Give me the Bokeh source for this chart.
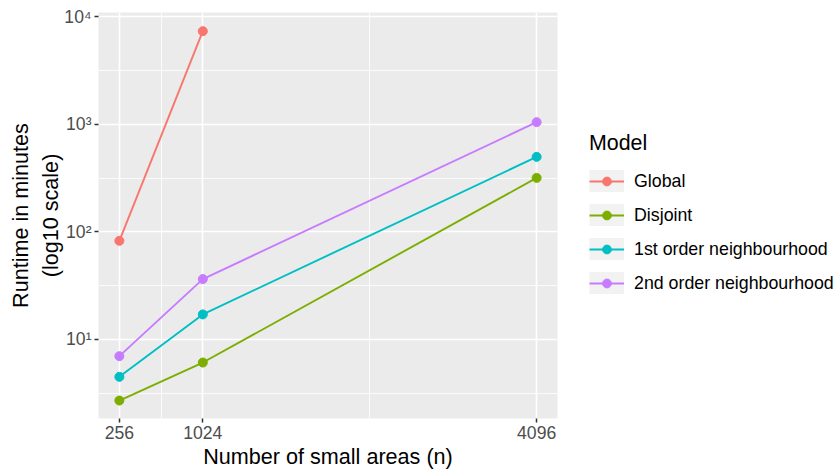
from bokeh.plotting import figure
from bokeh.models import FixedTicker, Legend, LegendItem, Range1d, Spacer
from bokeh.layouts import row
from bokeh.embed import file_html
from bokeh.resources import INLINE

# ---- data ----
n_areas = [256, 1024, 4096]
global_min = [82.5, 7303]          # only 256 and 1024
disjoint_min = [2.71, 6.11, 317]
first_min = [4.50, 17.1, 497]
second_min = [7.0, 36.4, 1044]

model_labels = ["Global", "Disjoint", "1st order neighbourhood", "2nd order neighbourhood"]
model_colors = ["#F8766D", "#7CAE00", "#00BFC4", "#C77CFF"]

x_ticks = [256, 1024, 4096]
x_minor = [640, 2560]
y_ticks = [10, 100, 1000, 10000]
y_tick_labels = ["10\u00b9", "10\u00b2", "10\u00b3", "10\u2074"]
y_minor = [3.162, 31.62, 316.2, 3162]

FONT = "Liberation Sans"

p = figure(frame_width=459, frame_height=406,
           y_axis_type="log",
           x_range=Range1d(64, 4288), y_range=Range1d(1.846, 10894),
           output_backend="svg", toolbar_location=None,
           min_border_left=80, min_border_right=272,
           min_border_top=12, min_border_bottom=49,
           background_fill_color="#EBEBEB", border_fill_color="white",
           outline_line_color=None)

xt = FixedTicker(ticks=x_ticks, minor_ticks=x_minor)
yt = FixedTicker(ticks=y_ticks, minor_ticks=y_minor)
p.xaxis.ticker = xt
p.xgrid.ticker = xt
p.yaxis.ticker = yt
p.ygrid.ticker = yt
p.yaxis.major_label_overrides = {float(t): lab for t, lab in zip(y_ticks, y_tick_labels)}

for g in (p.xgrid, p.ygrid):
    g.grid_line_color = "white"
    g.grid_line_width = 1.6
    g.minor_grid_line_color = "white"
    g.minor_grid_line_width = 0.8

for ax in (p.xaxis, p.yaxis):
    ax.axis_line_color = None
    ax.minor_tick_line_color = None
    ax.major_tick_line_color = "#333333"
    ax.major_tick_line_width = 1.5
    ax.major_tick_out = 4
    ax.major_tick_in = 0
    ax.major_label_text_font = FONT
    ax.major_label_text_font_size = "17.6px"
    ax.major_label_text_color = "#4D4D4D"
    ax.major_label_standoff = 3
    ax.axis_label_text_font = FONT
    ax.axis_label_text_font_size = "21.6px"
    ax.axis_label_text_font_style = "normal"
    ax.axis_label_text_color = "black"

p.xaxis.axis_label = "Number of small areas (n)"
p.xaxis.axis_label_standoff = 2
p.yaxis.axis_label = "Runtime in minutes\n(log10 scale)"
p.yaxis.axis_label_standoff = -2

series = [
    (n_areas[:2], global_min),
    (n_areas, disjoint_min),
    (n_areas, first_min),
    (n_areas, second_min),
]

line_rs = []
for (xs, ys), c in zip(series, model_colors):
    line_rs.append(p.line(xs, ys, line_color=c, line_width=1.9))
pt_rs = []
for (xs, ys), c in zip(series, model_colors):
    pt_rs.append(p.scatter(xs, ys, size=9, fill_color=c, line_color=c))

# key background (a single-point line draws nothing in the plot)
bg_r = p.line(n_areas[:1], disjoint_min[:1], line_color="#F2F2F2", line_width=35)

items = [LegendItem(label=lab, renderers=[bg_r, lr, pr])
         for lab, lr, pr in zip(model_labels, line_rs, pt_rs)]

legend = Legend(items=items, location=(32, 124),
                title="Model", title_text_font=FONT, title_text_font_size="21.4px",
                title_text_font_style="normal", title_text_color="black",
                title_standoff=14,
                label_text_font=FONT, label_text_font_size="17.8px",
                label_text_color="black",
                glyph_width=35, glyph_height=22, label_height=22,
                spacing=12, label_standoff=10, padding=5, margin=32,
                border_line_color=None, background_fill_color="white")
p.add_layout(legend, "right")

layout = row(Spacer(width=5, height=10), p)
open("out.html", "w").write(file_html(layout, INLINE))
